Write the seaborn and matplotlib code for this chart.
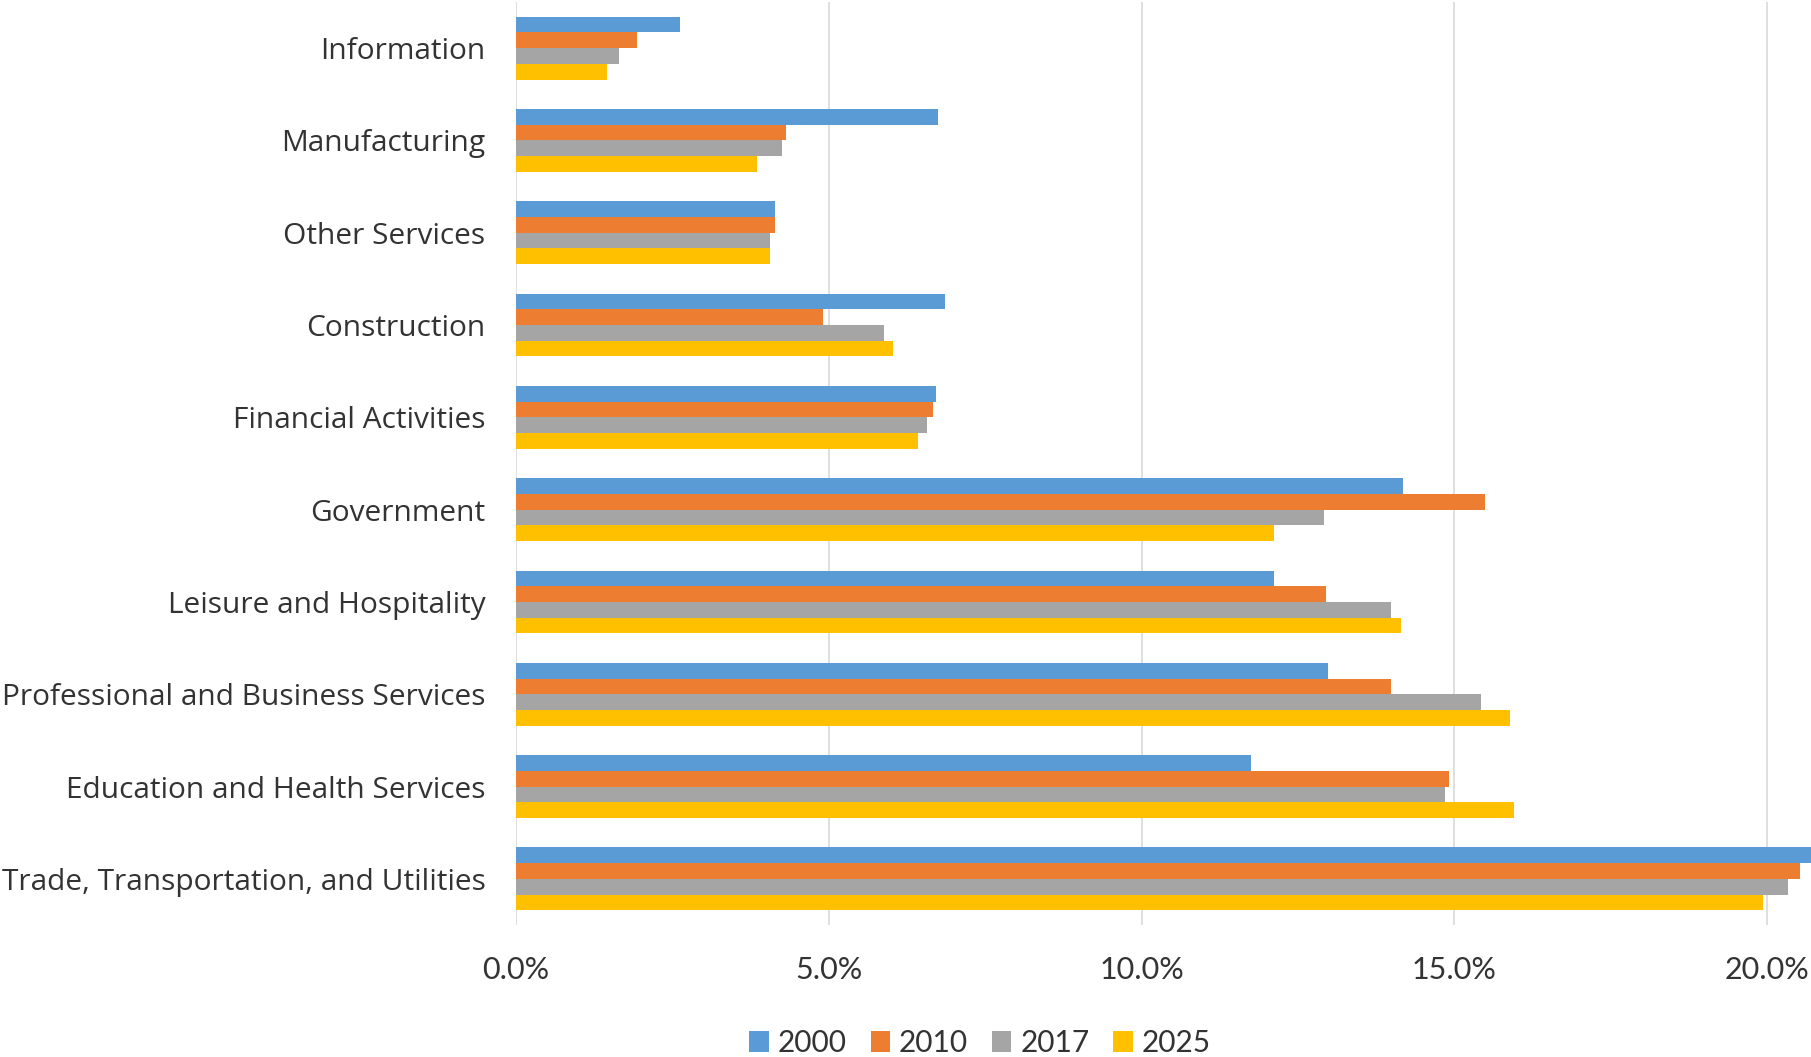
import matplotlib
matplotlib.use("Agg")
import matplotlib.pyplot as plt
import seaborn as sns
import pandas as pd
from matplotlib.ticker import FuncFormatter, FixedLocator
from matplotlib.patches import Patch

categories = [
    "Information",
    "Manufacturing",
    "Other Services",
    "Construction",
    "Financial Activities",
    "Government",
    "Leisure and Hospitality",
    "Professional and Business Services",
    "Education and Health Services",
    "Trade, Transportation, and Utilities",
]
years = ["2000", "2010", "2017", "2025"]
v2000 = [2.62, 6.75, 4.14, 6.86, 6.71, 14.18, 12.11, 12.98, 11.75, 20.85]
v2010 = [1.93, 4.32, 4.14, 4.90, 6.67, 15.49, 12.95, 13.99, 14.92, 20.53]
v2017 = [1.64, 4.25, 4.06, 5.88, 6.57, 12.92, 13.99, 15.43, 14.85, 20.34]
v2025 = [1.46, 3.85, 4.06, 6.03, 6.42, 12.11, 14.15, 15.89, 15.96, 19.93]
colors = ["#5B9BD5", "#ED7D31", "#A5A5A5", "#FFC000"]
xticks = [0, 5, 10, 15, 20]

series = {"2000": v2000, "2010": v2010, "2017": v2017, "2025": v2025}
rows = []
for y in years:
    for c, v in zip(categories, series[y]):
        rows.append({"Industry": c, "Year": y, "Share": v})
df = pd.DataFrame(rows)

sns.set_theme(style="white")
plt.rcParams["font.family"] = ["Lato", "DejaVu Sans"]

fig = plt.figure(figsize=(18.11, 10.57), dpi=100)
ax = fig.add_axes([516 / 1811, 132 / 1057, 1 - 516 / 1811, 923 / 1057])

sns.barplot(data=df, y="Industry", x="Share", hue="Year", order=categories,
            hue_order=years, palette=colors, orient="h", width=0.68,
            saturation=1, linewidth=0, legend=False, ax=ax)

ax.set_xlim(0, 20.70)
ax.set_ylim(9.5, -0.5)
ax.xaxis.set_major_locator(FixedLocator(xticks))
ax.xaxis.set_major_formatter(FuncFormatter(lambda v, p: f"{v:.1f}%"))
ax.grid(axis="x", color="#D9D9D9", linewidth=1.2)
ax.set_axisbelow(True)
for s in ax.spines.values():
    s.set_visible(False)
ax.set_xlabel("")
ax.set_ylabel("")
ax.tick_params(axis="y", length=0, pad=22, labelcolor="#333333")
ax.tick_params(axis="x", length=0, pad=22, labelsize=22, labelcolor="#333333")
for lab in ax.get_yticklabels():
    lab.set_fontfamily(["Open Sans", "DejaVu Sans"])
    lab.set_fontsize(21.5)

handles = [Patch(facecolor=c, edgecolor="none", label=y) for c, y in zip(colors, years)]
fig.legend(handles=handles, loc="center", bbox_to_anchor=(980 / 1811, 1 - 1043 / 1057),
           ncol=4, frameon=False, fontsize=21.5, handlelength=0.65, handleheight=0.7,
           handletextpad=0.3, columnspacing=0.8, labelcolor="#333333")

fig.savefig("out.png", dpi=100)
